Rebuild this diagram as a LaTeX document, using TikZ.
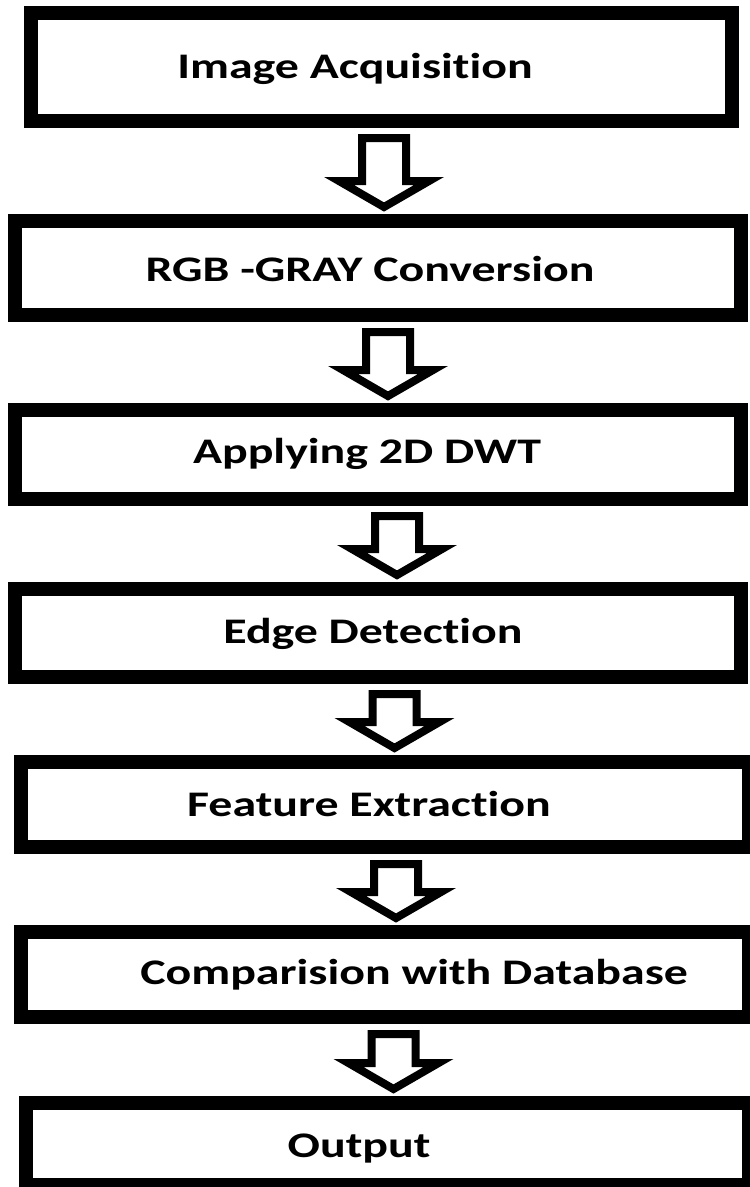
\documentclass[tikz,border=0pt]{standalone}
\usepackage{fontspec}
\newfontfamily\stepfont{Carlito}[FakeStretch=1.33,Ligatures=NoCommon]
\usetikzlibrary{calc}
\tikzset{
  stepbox/.style={draw, line width=14pt, rectangle, inner sep=0pt},
  steplabel/.style={anchor=base, inner sep=0pt, font=\stepfont\bfseries\fontsize{36}{40}\selectfont},
  blockarrow/.style={draw, line width=8pt, line join=miter, fill=white}
}
% hollow block arrow from the bottom of #1 to the top of #2, centred at x=#3
\newcommand{\flowarrow}[3]{%
  \draw[blockarrow] let \p1=(#1.south), \p2=(#2.north) in
    ({#3pt-22pt},{\y1-10pt}) -- ({#3pt+22pt},{\y1-10pt}) -- ({#3pt+22pt},{\y2+33pt})
    -- ({#3pt+45pt},{\y2+33pt}) -- ({#3pt},{\y2+7pt}) -- ({#3pt-45pt},{\y2+33pt})
    -- ({#3pt-22pt},{\y2+33pt}) -- cycle;
}
\begin{document}
\begin{tikzpicture}[x=1pt,y=-1pt]
\fill[white] (0,0) rectangle (750,1187);
\useasboundingbox (0,0) rectangle (750,1187);
% boxes
\node[stepbox, minimum width=701, minimum height=108] (b1) at (381.5,67) {};
\node[stepbox, minimum width=726, minimum height=94] (b2) at (378,268) {};
\node[stepbox, minimum width=726, minimum height=89] (b3) at (378,454.5) {};
\node[stepbox, minimum width=726, minimum height=88] (b4) at (378,633) {};
\node[stepbox, minimum width=728, minimum height=85] (b5) at (385,804.5) {};
\node[stepbox, minimum width=728, minimum height=85] (b6) at (385,974.5) {};
\node[stepbox, minimum width=723, minimum height=82] (b7) at (387.5,1144) {};
% texts
\node[steplabel] (l1) at (355,78) {Image Acquisition};
\node[steplabel] (l2) at (370,281) {RGB -GRAY Conversion};
\node[steplabel] (l3) at (367,463) {Applying 2D DWT};
\node[steplabel] (l4) at (373,643) {Edge Detection};
\node[steplabel] (l5) at (369,816) {Feature Extraction};
\node[steplabel] (l6) at (414,984) {Comparision with Database};
\node[steplabel] (l7) at (359,1157) {Output};
% arrows
\flowarrow{b1}{b2}{384}
\flowarrow{b2}{b3}{388}
\flowarrow{b3}{b4}{397}
\flowarrow{b4}{b5}{394.5}
\flowarrow{b5}{b6}{396}
\flowarrow{b6}{b7}{393.5}
\end{tikzpicture}
\end{document}
